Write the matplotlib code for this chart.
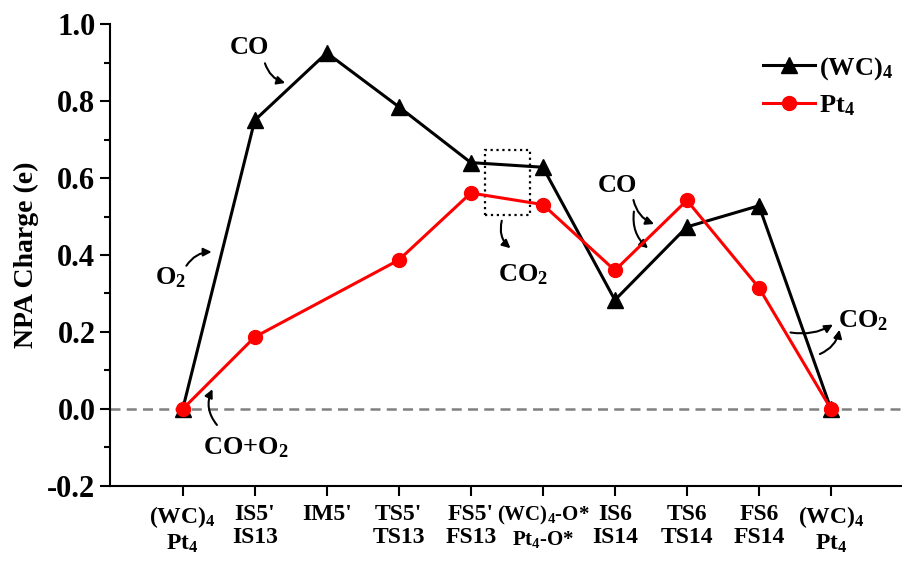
import matplotlib.pyplot as plt
from matplotlib.patches import Rectangle
from matplotlib.ticker import MultipleLocator

plt.rcParams['font.family'] = ['Liberation Serif', 'DejaVu Serif']
plt.rcParams['font.weight'] = 'bold'
plt.rcParams['mathtext.fontset'] = 'custom'
plt.rcParams['mathtext.rm'] = 'Liberation Serif:bold'
plt.rcParams['mathtext.it'] = 'Liberation Serif:bold'
plt.rcParams['mathtext.bf'] = 'Liberation Serif:bold'

# states along the reaction path
labels = [r'(WC)$_4$' + '\n' + r'Pt$_4$', "IS5'\nIS13", "IM5'\n ", "TS5'\nTS13",
          "FS5'\nFS13", r'(WC)$_4$-O*' + '\n' + r'Pt$_4$-O*', 'IS6\nIS14',
          'TS6\nTS14', 'FS6\nFS14', r'(WC)$_4$' + '\n' + r'Pt$_4$']
wc_x = [0, 1, 2, 3, 4, 5, 6, 7, 8, 9]
wc_y = [0.0, 0.75, 0.925, 0.785, 0.64, 0.628, 0.283, 0.473, 0.528, 0.0]
pt_x = [0, 1, 3, 4, 5, 6, 7, 8, 9]
pt_y = [0.0, 0.187, 0.387, 0.561, 0.531, 0.36, 0.542, 0.315, 0.0]

fig = plt.figure(figsize=(9.03, 5.68), dpi=100)
ax = fig.add_axes([0.1218, 0.1444, 0.8782, 0.8133])

ax.axhline(0, color='#808080', ls=(0, (4, 2.5)), lw=1.8, zorder=1)
ax.plot(wc_x, wc_y, color='k', lw=2.2, marker='^', ms=12, label=r'(WC)$_4$', zorder=3)
ax.plot(pt_x, pt_y, color='red', lw=2.2, marker='o', ms=10, label=r'Pt$_4$', zorder=4)

ax.add_patch(Rectangle((4.19, 0.504), 0.63, 0.168, fill=False, ls=':', lw=1.6, ec='k'))

arr = dict(arrowstyle='-|>', color='k', lw=1.5, mutation_scale=12)
fs = 19
ax.annotate('', xy=(1.46, 0.845), xytext=(1.13, 0.905),
            arrowprops=dict(arr, connectionstyle='arc3,rad=0.3'))
ax.text(0.93, 0.94, 'CO', fontsize=fs, ha='center', va='center')
ax.annotate('', xy=(0.44, 0.408), xytext=(0.03, 0.366),
            arrowprops=dict(arr, connectionstyle='arc3,rad=-0.3'))
ax.text(-0.17, 0.34, r'O$_2$', fontsize=fs, ha='center', va='center')
ax.annotate('', xy=(0.43, 0.058), xytext=(0.5, -0.047),
            arrowprops=dict(arr, connectionstyle='arc3,rad=-0.35'))
ax.text(0.88, -0.1, r'CO+O$_2$', fontsize=fs, ha='center', va='center')
ax.annotate('', xy=(4.58, 0.413), xytext=(4.44, 0.496),
            arrowprops=dict(arr, connectionstyle='arc3,rad=0.35'))
ax.text(4.72, 0.35, r'CO$_2$', fontsize=fs, ha='center', va='center')
ax.text(6.03, 0.58, 'CO', fontsize=fs, ha='center', va='center')
ax.annotate('', xy=(6.58, 0.478), xytext=(6.25, 0.55),
            arrowprops=dict(arr, connectionstyle='arc3,rad=0.3'))
ax.annotate('', xy=(6.49, 0.413), xytext=(6.27, 0.52),
            arrowprops=dict(arr, connectionstyle='arc3,rad=0.3'))
ax.annotate('', xy=(9.06, 0.223), xytext=(8.4, 0.2),
            arrowprops=dict(arr, connectionstyle='arc3,rad=0.2'))
ax.annotate('', xy=(9.125, 0.213), xytext=(8.81, 0.14),
            arrowprops=dict(arr, connectionstyle='arc3,rad=0.3'))
ax.text(9.45, 0.23, r'CO$_2$', fontsize=fs, ha='center', va='center')

ax.set_xlim(-1.01, 10)
ax.set_ylim(-0.2, 1.0)
ax.set_xticks(wc_x)
ax.set_xticklabels(labels, fontsize=17, linespacing=1.15)
ax.get_xticklabels()[5].set_fontsize(15)
ax.yaxis.set_minor_locator(MultipleLocator(0.1))
ax.set_yticks([-0.2, 0.0, 0.2, 0.4, 0.6, 0.8, 1.0])
ax.set_yticklabels(['-0.2', '0.0', '0.2', '0.4', '0.6', '0.8', '1.0'], fontsize=22)
ax.tick_params(direction='out', width=1.5, length=7)
ax.tick_params(axis='x', pad=6)
ax.tick_params(which='minor', direction='out', width=1.5, length=4)
ax.spines['top'].set_visible(False)
ax.spines['right'].set_visible(False)
ax.spines['left'].set_linewidth(1.5)
ax.spines['bottom'].set_linewidth(1.5)
ax.set_ylabel('NPA Charge (e)', fontsize=20, fontweight='bold', labelpad=6)

ax.legend(loc='upper right', bbox_to_anchor=(1.018, 0.985), frameon=False, fontsize=19,
          handlelength=2.0, handletextpad=0.15, labelspacing=0.45)

fig.savefig('out.png', dpi=100)
